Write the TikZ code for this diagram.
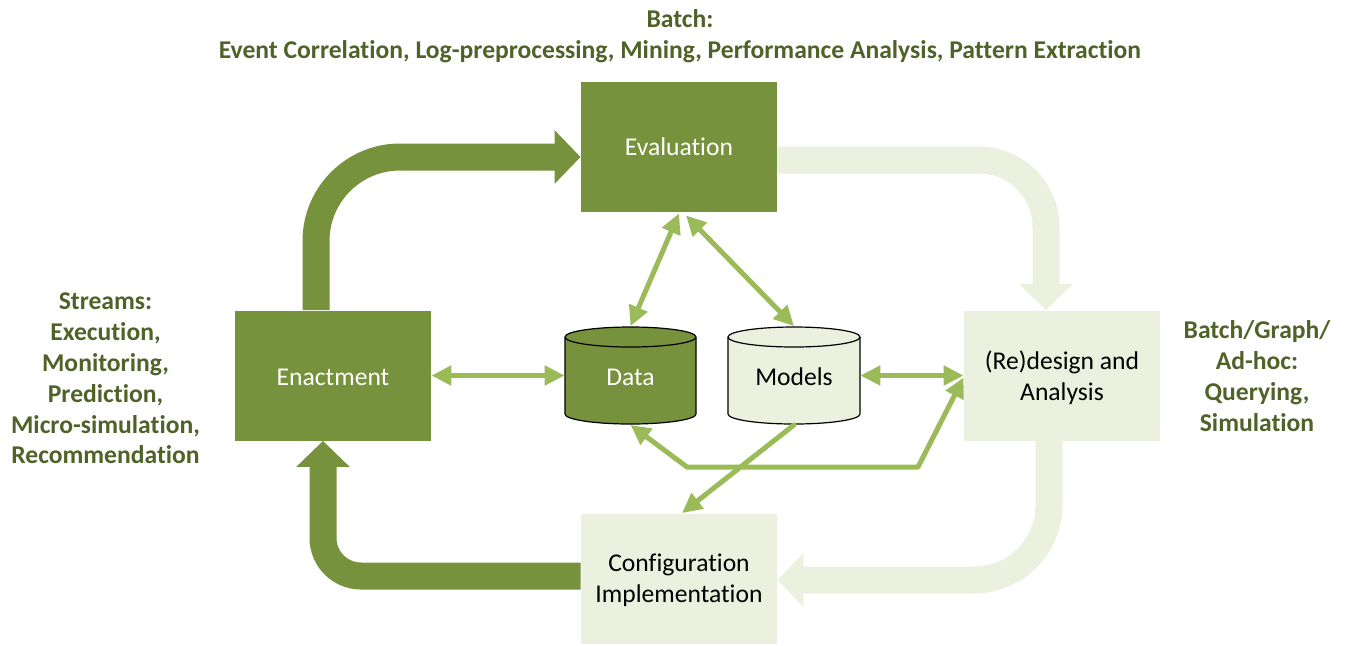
\documentclass[tikz,border=0pt]{standalone}
\usepackage{fontspec}
\setmainfont{Carlito}[Ligatures=NoCommon]
\usetikzlibrary{arrows.meta,calc}
\definecolor{dkgreen}{HTML}{76923C}
\definecolor{ltgreen}{HTML}{EBF1DE}
\definecolor{mdgreen}{HTML}{9BBB59}
\definecolor{txgreen}{HTML}{4F6228}
\tikzset{
  boxfont/.style={font=\fontsize{12.8}{15.4}\selectfont},
  boxdark/.style={fill=dkgreen, minimum width=98pt, minimum height=65pt, inner sep=0pt},
  boxlight/.style={fill=ltgreen, minimum width=98pt, minimum height=65pt, inner sep=0pt},
  boxtext/.style={boxfont, align=center, inner sep=0pt},
  cylbox/.style={minimum width=65.5pt, minimum height=49pt, inner sep=0pt},
  sidetext/.style={text=txgreen, align=center, font=\bfseries\fontsize{12.8}{15.4}\selectfont},
  bigdark/.style={draw=dkgreen, line width=13.5pt, -{Triangle[length=13pt,width=26pt]}},
  biglight/.style={draw=ltgreen, line width=13.5pt, -{Triangle[length=13pt,width=26pt]}},
  thin/.style={draw=mdgreen, line width=2.5pt, line cap=round, line join=round},
}
\begin{document}
\begin{tikzpicture}[x=0.5pt,y=-0.5pt]
\useasboundingbox (0,0) rectangle (1346,645);

% boxes
\node[boxdark, label={[boxtext, text=white]center:Evaluation}] (eval) at (679,147) {};
\node[boxdark, label={[boxtext, text=white, yshift=-0.8pt]center:Enactment}] (enact) at (333,375.5) {};
\node[boxlight, label={[boxtext, text=black, yshift=-1pt]center:(Re)design and\\Analysis}] (redesign) at (1062,375.5) {};
\node[boxlight, label={[boxtext, text=black, yshift=-1pt]center:Configuration\\Implementation}] (config) at (679,578.5) {};

% cylinders
\filldraw[fill=dkgreen, draw=black, line width=0.6pt]
  (565,337) -- (565,414) arc[start angle=180, end angle=0, x radius=65.5, y radius=10]
  -- (696,337) arc[start angle=0, end angle=-180, x radius=65.5, y radius=10] -- cycle;
\draw[black, line width=0.6pt] (565,337) arc[start angle=180, end angle=0, x radius=65.5, y radius=10];
\node[cylbox, label={[boxtext, text=white, yshift=-0.8pt]center:Data}] (data) at (630.5,375.5) {};

\filldraw[fill=ltgreen, draw=black, line width=0.6pt]
  (728,337) -- (728,414) arc[start angle=180, end angle=0, x radius=66, y radius=10]
  -- (860,337) arc[start angle=0, end angle=-180, x radius=66, y radius=10] -- cycle;
\draw[black, line width=0.6pt] (728,337) arc[start angle=180, end angle=0, x radius=66, y radius=10];
\node[cylbox, minimum width=66pt, label={[boxtext, text=black, yshift=-0.8pt]center:Models}] (models) at (794,375.5) {};

% big arrows
\draw[bigdark, rounded corners=42pt] ([xshift=-8.5pt]enact.north) |- ([yshift=-5pt]eval.west);
\draw[biglight, rounded corners=33.5pt] ([yshift=-6.5pt]eval.east) -| ([xshift=-8pt]redesign.north);
\draw[biglight, rounded corners=37.5pt] ([xshift=-6.5pt]redesign.south) |- ([yshift=-0.75pt]config.east);
\draw[bigdark, rounded corners=19pt] ([yshift=1.25pt]config.west) -| ([xshift=-5pt]enact.south);

% thin arrows
\draw[thin, {Triangle[length=10pt,width=9.5pt]}-{Triangle[length=10pt,width=9.5pt]}] (enact.east) -- (data.west);
\draw[thin, {Triangle[length=10pt,width=9.5pt]}-{Triangle[length=10pt,width=9.5pt]}] (models.east) -- (redesign.west);
\draw[thin, {Triangle[length=10pt,width=9.5pt]}-{Triangle[length=10pt,width=9.5pt]}] ([yshift=-0.5pt]eval.south) -- (data.north);
\draw[thin, {Triangle[length=10pt,width=9.5pt]}-{Triangle[length=10pt,width=9.5pt]}] ([xshift=3.5pt,yshift=-1.5pt]eval.south) -- (models.north);
\coordinate (b1) at (687,467);
\coordinate (b2) at (918,467);
\draw[thin, {Triangle[length=10pt,width=9.5pt]}-{Triangle[length=10pt,width=9.5pt]}] (data.south) -- (b1) -- (b2) -- ([yshift=-1pt]redesign.west);
\draw[thin, -{Triangle[length=10pt,width=9.5pt]}] (models.south) -- ([xshift=1.5pt]config.north);

% side texts
\node[sidetext] (top) at (680,36) {Batch:\\Event Correlation, Log-preprocessing, Mining, Performance Analysis, Pattern Extraction};
\node[sidetext] (left) at (105.5,378.5) {Streams:\\Execution,\\Monitoring,\\Prediction,\\Micro-simulation,\\Recommendation};
\node[sidetext] (right) at (1257,376) {Batch/Graph/\\Ad-hoc:\\Querying,\\Simulation};
\end{tikzpicture}
\end{document}
